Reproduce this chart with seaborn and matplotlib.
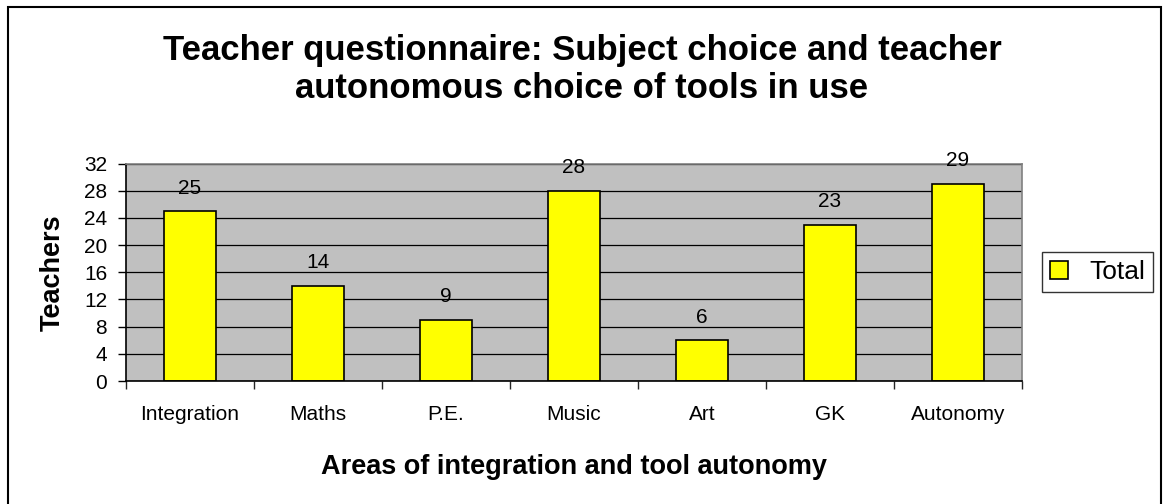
import pandas as pd
import matplotlib.pyplot as plt
import seaborn as sns
from matplotlib.patches import Rectangle

areas = ["Integration", "Maths", "P.E.", "Music", "Art", "GK", "Autonomy"]
teachers = [25, 14, 9, 28, 6, 23, 29]
y_ticks = [0, 4, 8, 12, 16, 20, 24, 28, 32]

df = pd.DataFrame({"area": areas, "teachers": teachers})

sns.set_theme(style="white")
plt.rcParams["font.family"] = ["Liberation Sans", "DejaVu Sans"]
plt.rcParams["text.color"] = "black"
plt.rcParams["axes.labelcolor"] = "black"

fig = plt.figure(figsize=(11.64, 5.04), dpi=100)
ax = fig.add_axes([0.1082, 0.244, 0.7698, 0.4315])

sns.barplot(data=df, x="area", y="teachers", ax=ax, color="#ffff00",
            edgecolor="black", linewidth=1.2, width=0.4, saturation=1,
            label="Total")

ax.set_facecolor("#c0c0c0")
ax.set_ylim(0, 32)
ax.set_yticks(y_ticks)
ax.yaxis.grid(True, color="black", linewidth=0.9)
ax.set_axisbelow(True)
for s in ax.spines.values():
    s.set_color("#808080")
    s.set_linewidth(1.2)
ax.spines["left"].set_color("black")
ax.spines["bottom"].set_color("black")

ax.tick_params(axis="both", labelsize=15, colors="black", labelcolor="black", length=0)
ax.tick_params(axis="y", length=6, width=1, direction="out", left=True, pad=7.5)
ax.tick_params(axis="x", pad=17.5)
# category separator ticks on the x axis
ax.set_xticks([i - 0.5 for i in range(len(areas) + 1)], minor=True)
ax.tick_params(axis="x", which="minor", length=6, width=1, direction="out", bottom=True)

for i, v in enumerate(teachers):
    ax.text(i, v + 2.0, str(v), ha="center", va="bottom", fontsize=15, color="black")

ax.set_xlabel("Areas of integration and tool autonomy", fontsize=19.5,
              fontweight="bold", labelpad=21.5)
ax.set_ylabel("Teachers", fontsize=19.5, fontweight="bold", labelpad=13)

fig.text(0.5, 0.862, "Teacher questionnaire: Subject choice and teacher\nautonomous choice of tools in use",
         ha="center", va="center", fontsize=25, fontweight="bold", linespacing=1.2,
         color="black")

leg = ax.legend(loc="center left", bbox_to_anchor=(1.022, 0.5), fontsize=19,
                frameon=True, fancybox=False, edgecolor="black",
                handlelength=0.7, handleheight=0.7, handletextpad=0.8,
                borderpad=0.3, borderaxespad=0)
leg.get_frame().set_linewidth(1.0)
for t in leg.get_texts():
    t.set_color("black")

fig.patches.append(Rectangle((8 / 1164, -0.01), 1153 / 1164, (504 - 7) / 504 + 0.01,
                             transform=fig.transFigure, fill=False,
                             edgecolor="black", linewidth=1.5))

fig.savefig("out.png", dpi=100)
